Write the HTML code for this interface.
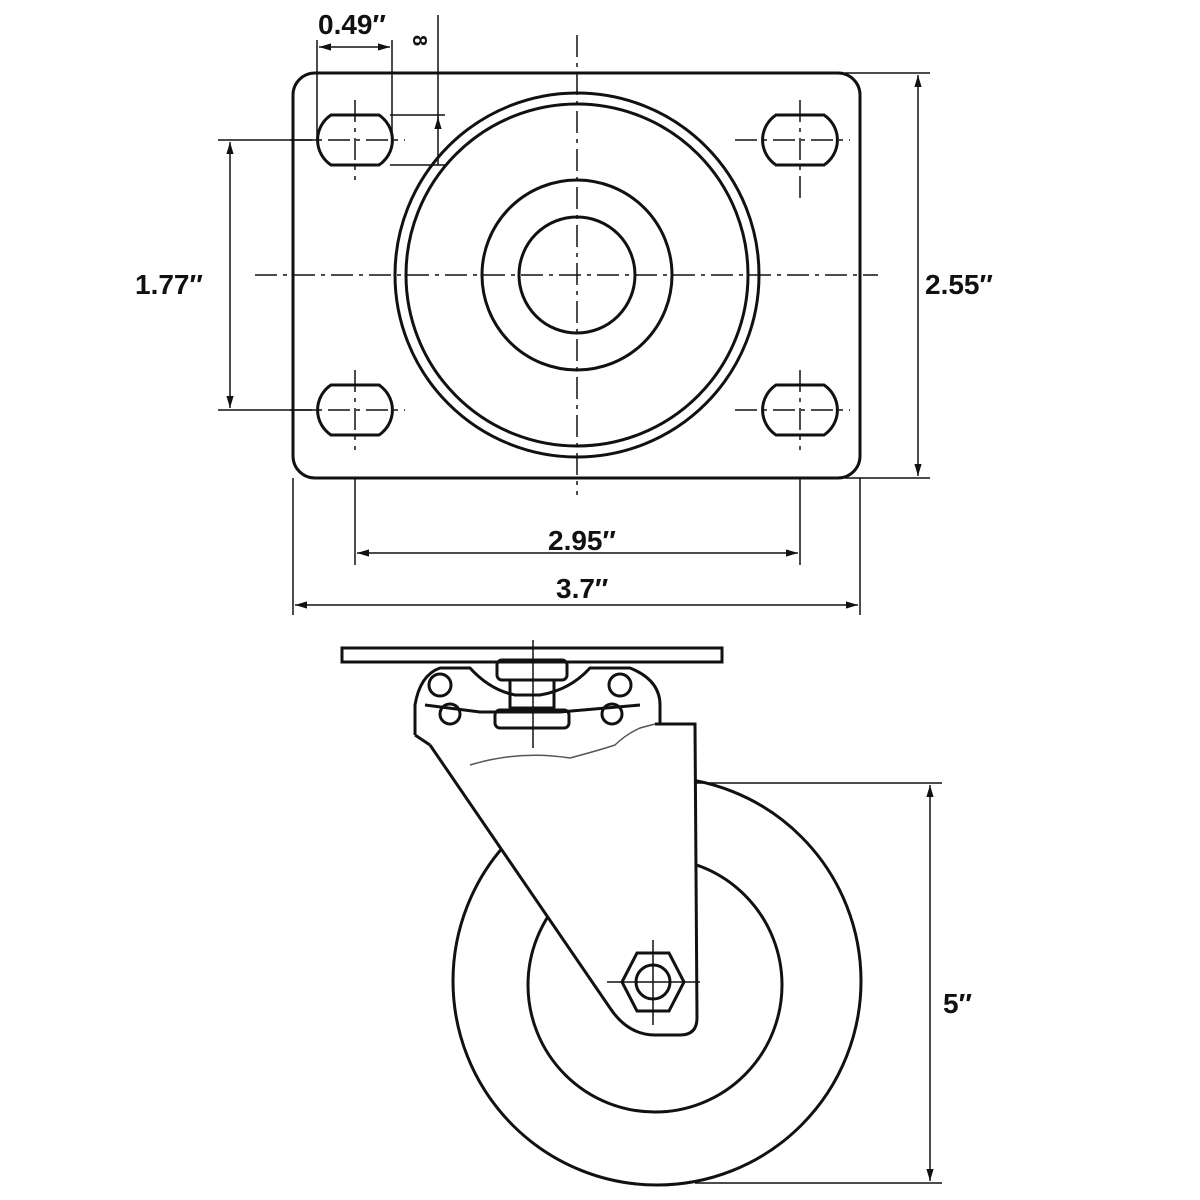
<!DOCTYPE html>
<html><head><style>
html,body{margin:0;padding:0;background:#fff}
svg{display:block}
text{font-family:"Liberation Sans",sans-serif;font-weight:bold;fill:#111}
</style></head><body>
<svg width="1200" height="1200" viewBox="0 0 1200 1200" xmlns="http://www.w3.org/2000/svg">
<defs>
<marker id="a" viewBox="0 0 10 10" refX="10" refY="5" markerWidth="8" markerHeight="8" orient="auto-start-reverse"><path d="M0,2 L10,5 L0,8 z" fill="#111"/></marker>
</defs>
<g stroke="#111" fill="none" stroke-width="3">
<rect x="293" y="73" width="567" height="405" rx="22"/>
<circle cx="577" cy="275" r="182"/>
<circle cx="577" cy="275" r="171"/>
<circle cx="577" cy="275" r="95"/>
<circle cx="577" cy="275" r="58"/>
<g id="s"><path d="M331,115 L379,115 A30,30 0 0 1 379,165 L331,165 A30,30 0 0 1 331,115 Z"/></g>
<use href="#s" x="445"/><use href="#s" y="270"/><use href="#s" x="445" y="270"/>
</g>
<g stroke="#111" fill="none" stroke-width="1.5" stroke-dasharray="22,6,4,6">
<line x1="255" y1="275" x2="878" y2="275"/>
<line x1="577" y1="35" x2="577" y2="495"/>
<line x1="290" y1="140" x2="405" y2="140"/><line x1="355" y1="100" x2="355" y2="180"/>
<line x1="735" y1="140" x2="850" y2="140"/><line x1="800" y1="100" x2="800" y2="200"/>
<line x1="290" y1="410" x2="405" y2="410"/><line x1="355" y1="370" x2="355" y2="450"/>
<line x1="735" y1="410" x2="850" y2="410"/><line x1="800" y1="370" x2="800" y2="450"/>
</g>
<g stroke="#111" fill="none" stroke-width="1.5">
<line x1="317" y1="40" x2="317" y2="140"/><line x1="392" y1="40" x2="392" y2="140"/>
<line x1="319" y1="47" x2="390" y2="47" marker-start="url(#a)" marker-end="url(#a)"/>
<line x1="438" y1="15" x2="438" y2="165"/>
<line x1="390" y1="115" x2="445" y2="115"/><line x1="390" y1="165" x2="445" y2="165"/>
<line x1="438" y1="128" x2="438" y2="117" marker-end="url(#a)"/>
<line x1="218" y1="140" x2="318" y2="140"/><line x1="218" y1="410" x2="318" y2="410"/>
<line x1="230" y1="142" x2="230" y2="408" marker-start="url(#a)" marker-end="url(#a)"/>
<line x1="845" y1="73" x2="930" y2="73"/><line x1="845" y1="478" x2="930" y2="478"/>
<line x1="918" y1="75" x2="918" y2="476" marker-start="url(#a)" marker-end="url(#a)"/>
<line x1="355" y1="478" x2="355" y2="565"/><line x1="800" y1="478" x2="800" y2="565"/>
<line x1="357" y1="553" x2="798" y2="553" marker-start="url(#a)" marker-end="url(#a)"/>
<line x1="293" y1="478" x2="293" y2="615"/><line x1="860" y1="478" x2="860" y2="615"/>
<line x1="295" y1="605" x2="858" y2="605" marker-start="url(#a)" marker-end="url(#a)"/>
<line x1="695" y1="783" x2="942" y2="783"/><line x1="695" y1="1183" x2="942" y2="1183"/>
<line x1="930" y1="785" x2="930" y2="1181" marker-start="url(#a)" marker-end="url(#a)"/>
</g>
<text x="318" y="34" font-size="28">0.49″</text>
<text x="408" y="50" font-size="20" font-weight="normal" transform="rotate(90 418 45)">8</text>
<text x="135" y="294" font-size="28">1.77″</text>
<text x="925" y="294" font-size="28">2.55″</text>
<text x="548" y="550" font-size="28">2.95″</text>
<text x="556" y="598" font-size="28">3.7″</text>
<text x="943" y="1013" font-size="28">5″</text>
<g stroke="#111" fill="none" stroke-width="3">
<circle cx="657" cy="981" r="204"/>
<circle cx="655" cy="985" r="127"/>
<path d="M430,745 L610,1008 Q628,1035 655,1035 L680,1035 Q697,1035 697,1018 L695,724 L655,724" fill="#fff"/>
<polygon points="622,982 637,953 669,953 684,982 669,1011 637,1011"/>
<circle cx="653" cy="982" r="17"/>
<rect x="342" y="648" width="380" height="14"/>
<path d="M415,735 L415,705 Q420,675 440,668 L470,668 Q490,690 515,695 L540,695 Q570,690 590,668 L630,668 Q660,680 660,705 L660,724"/>
<path d="M425,705 L480,712 L560,712 L640,705"/>
<line x1="415" y1="735" x2="430" y2="745"/>
<rect x="497" y="660" width="70" height="20" rx="5"/>
<rect x="510" y="680" width="44" height="28"/>
<rect x="495" y="710" width="74" height="18" rx="5"/>
<circle cx="440" cy="685" r="11"/><circle cx="450" cy="714" r="10"/>
<circle cx="620" cy="685" r="11"/><circle cx="612" cy="714" r="10"/>
</g>
<g stroke="#111" fill="none" stroke-width="1.5">
<line x1="533" y1="640" x2="533" y2="748"/>
<line x1="653" y1="940" x2="653" y2="1025"/><line x1="607" y1="982" x2="700" y2="982"/>
<path d="M470,765 Q520,750 570,758 Q600,750 615,745 Q625,735 640,728 L655,724" stroke="#555"/>
</g>
</svg>
</body></html>
